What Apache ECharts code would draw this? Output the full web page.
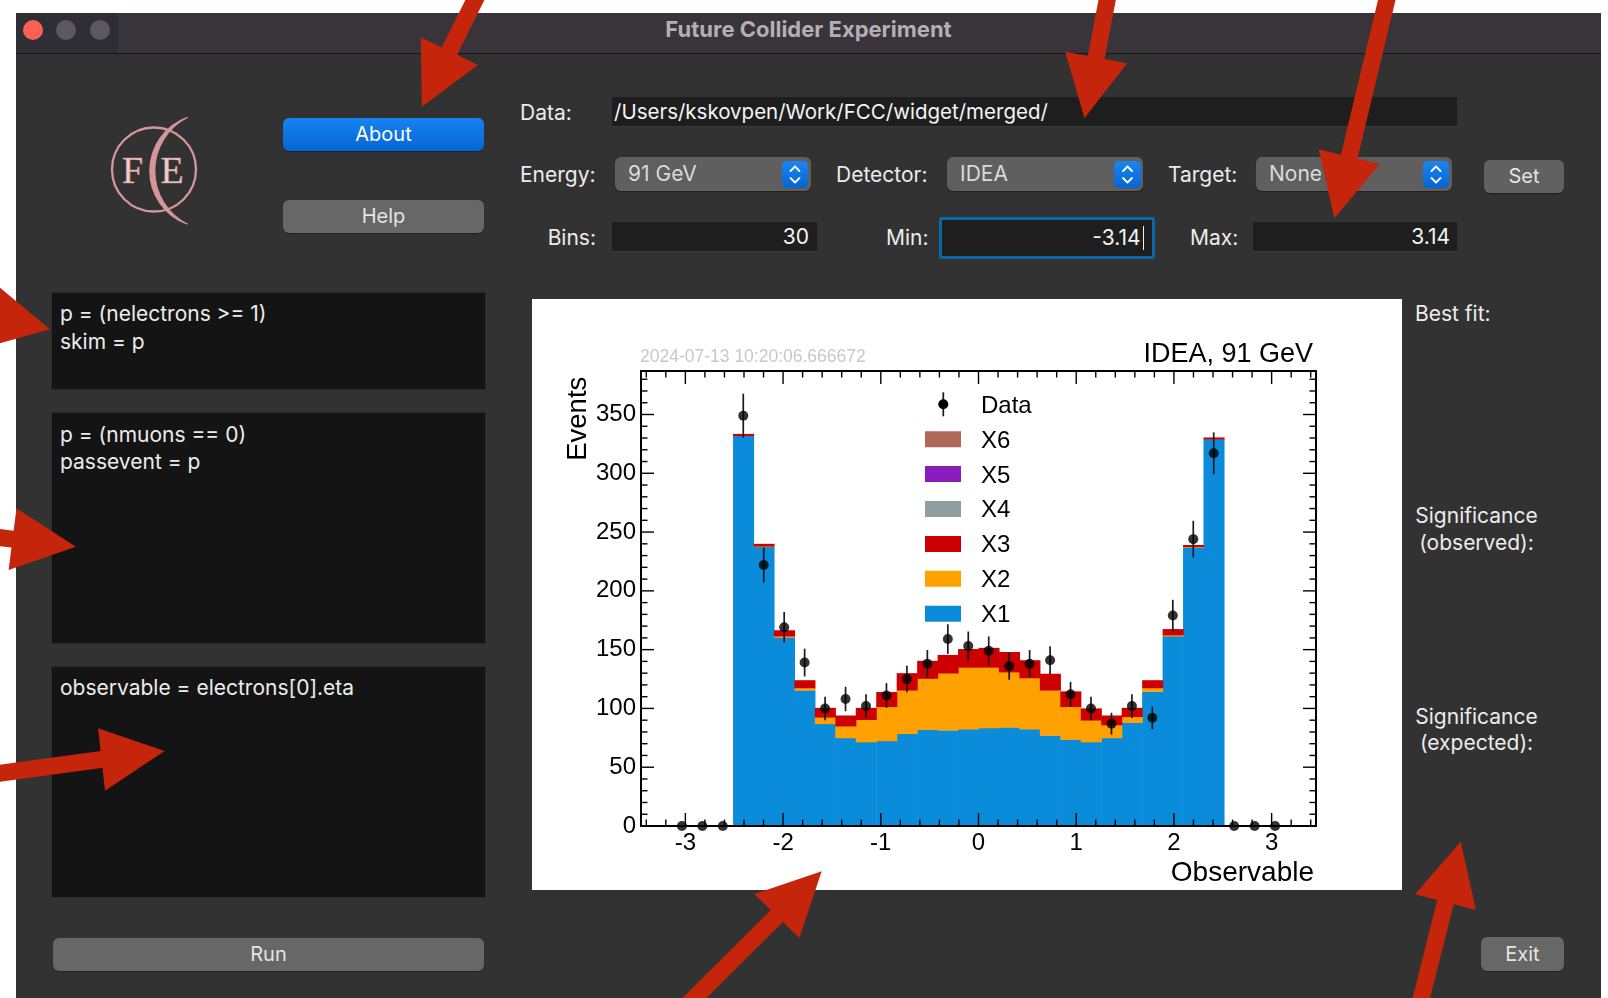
<!DOCTYPE html>
<html>
<head>
<meta charset="utf-8">
<script src="https://cdn.jsdelivr.net/npm/echarts@6/dist/echarts.min.js"></script>
<style>
  html, body { margin:0; padding:0; }
  body { width:1608px; height:998px; position:relative; overflow:hidden; background:#ffffff; font-family:Inter, "Noto Sans", sans-serif; }
  .abs { position:absolute; box-sizing:border-box; }
  .lbl { position:absolute; color:#ececec; font-size:21px; white-space:nowrap; }
  .btn { position:absolute; box-sizing:border-box; border-radius:6px; background:#676767; color:#e4e4e4; font-size:20px; text-align:center; box-shadow:0 1px 1px rgba(0,0,0,0.35); }
  .field { position:absolute; box-sizing:border-box; background:#1e1e1e; color:#f4f4f4; font-size:21px; border-bottom:1px solid #3a3a3a; white-space:nowrap; }
  .combo { position:absolute; box-sizing:border-box; background:#5f5f5f; border-radius:6px; color:#dadada; font-size:21px; box-shadow:0 1px 1px rgba(0,0,0,0.35); }
  .step { position:absolute; border-radius:5px; background:linear-gradient(#1a86f2,#0564d2); }
  .tarea { position:absolute; box-sizing:border-box; background:#141414; border:1px solid #2a2a2a; color:#ececec; font-size:21px; line-height:27.7px; padding-left:8px; white-space:pre; }
</style>
</head>
<body>
<!-- window -->
<div class="abs" style="left:16px;top:13px;width:1585px;height:985px;background:#323232;"></div>
<div class="abs" style="left:16px;top:13px;width:1585px;height:41px;background:#38343a;border-bottom:1px solid #151515;"></div>
<div class="abs" style="left:16px;top:13px;width:102px;height:40px;background:#2f2e34;"></div>
<div class="abs" style="left:16px;top:13px;width:1585px;height:33px;line-height:33px;text-align:center;color:#b3afb3;font-weight:700;font-size:22px;">Future Collider Experiment</div>
<div class="abs" style="left:23px;top:19.5px;width:20px;height:20px;border-radius:50%;background:#fe5f57;"></div>
<div class="abs" style="left:56px;top:19.5px;width:20px;height:20px;border-radius:50%;background:#5b595e;"></div>
<div class="abs" style="left:89.5px;top:19.5px;width:20px;height:20px;border-radius:50%;background:#5b595e;"></div>

<!-- logo -->
<svg class="abs" style="left:0;top:0;" width="260" height="260">
  <circle cx="154" cy="169.5" r="42" fill="none" stroke="#d4969a" stroke-width="2.3"/>
  <path d="M187.7,117.3 A56.7,56.7 0 0 0 187.7,224.3 A59.9,59.9 0 0 1 187.7,117.3 Z" fill="#d4969a" stroke="#d4969a" stroke-width="1.2"/>
  <text x="132.6" y="182.7" text-anchor="middle" font-family="Liberation Serif, DejaVu Serif, serif" font-size="38" fill="#ecd0d0" stroke="#c98a8e" stroke-width="0.6">F</text>
  <text x="172.2" y="182.7" text-anchor="middle" font-family="Liberation Serif, DejaVu Serif, serif" font-size="38" fill="#ecd0d0" stroke="#c98a8e" stroke-width="0.6">E</text>
</svg>

<div class="btn" style="left:283px;top:118px;width:201px;height:33px;line-height:33px;background:linear-gradient(#1783f0,#0566d4);color:#ffffff;">About</div>
<div class="btn" style="left:283px;top:200px;width:201px;height:33px;line-height:33px;">Help</div>

<!-- controls -->
<div class="lbl" style="left:520px;top:98px;height:30px;line-height:30px;">Data:</div>
<div class="field" style="left:612px;top:97px;width:845px;height:30px;line-height:29px;padding-left:2px;font-size:20.5px;">/Users/kskovpen/Work/FCC/widget/merged/</div>

<div class="lbl" style="left:520px;top:160px;height:30px;line-height:30px;">Energy:</div>
<div class="combo" style="left:615px;top:157px;width:196px;height:34px;line-height:34px;padding-left:13px;">91 GeV</div>
<div class="step" style="left:782px;top:161px;width:26px;height:26.5px;"><svg width="26" height="27"><path d="M8.5,10 L13,5.5 L17.5,10 M8.5,17 L13,21.5 L17.5,17" fill="none" stroke="#fff" stroke-width="1.8" stroke-linecap="round" stroke-linejoin="round"/></svg></div>

<div class="lbl" style="left:836px;top:160px;height:30px;line-height:30px;">Detector:</div>
<div class="combo" style="left:947px;top:157px;width:196px;height:34px;line-height:34px;padding-left:13px;">IDEA</div>
<div class="step" style="left:1114px;top:161px;width:27px;height:26.5px;"><svg width="27" height="27"><path d="M9,10 L13.5,5.5 L18,10 M9,17 L13.5,21.5 L18,17" fill="none" stroke="#fff" stroke-width="1.8" stroke-linecap="round" stroke-linejoin="round"/></svg></div>

<div class="lbl" style="left:1168px;top:160px;height:30px;line-height:30px;">Target:</div>
<div class="combo" style="left:1256px;top:157px;width:196px;height:34px;line-height:34px;padding-left:13px;">None</div>
<div class="step" style="left:1423px;top:161px;width:26px;height:26.5px;"><svg width="26" height="27"><path d="M8.5,10 L13,5.5 L17.5,10 M8.5,17 L13,21.5 L17.5,17" fill="none" stroke="#fff" stroke-width="1.8" stroke-linecap="round" stroke-linejoin="round"/></svg></div>
<div class="btn" style="left:1484px;top:160px;width:80px;height:33px;line-height:33px;background:#616161;">Set</div>

<div class="lbl" style="left:496px;top:223px;width:100px;height:30px;line-height:30px;text-align:right;">Bins:</div>
<div class="field" style="left:612px;top:222px;width:205px;height:30px;line-height:29px;text-align:right;padding-right:8px;">30</div>
<div class="lbl" style="left:886px;top:223px;height:30px;line-height:30px;">Min:</div>
<div class="abs" style="left:938.5px;top:216.5px;width:216px;height:42px;border:3px solid #0a68a4;border-radius:3px;background:#1e1e1e;"></div>
<div class="abs" style="left:941.5px;top:219.5px;width:199px;height:36px;line-height:36px;text-align:right;color:#f4f4f4;font-size:21px;">-3.14</div>
<div class="abs" style="left:1142.5px;top:226px;width:1px;height:24px;background:#f0f0f0;"></div>
<div class="lbl" style="left:1190px;top:223px;height:30px;line-height:30px;">Max:</div>
<div class="field" style="left:1253px;top:222px;width:204px;height:30px;line-height:29px;text-align:right;padding-right:7px;">3.14</div>

<!-- text areas -->
<div class="tarea" style="left:51px;top:292px;width:435px;height:98px;padding-top:7px;">p = (nelectrons &gt;= 1)
skim = p</div>
<div class="tarea" style="left:51px;top:412px;width:435px;height:232px;padding-top:7.5px;">p = (nmuons == 0)
passevent = p</div>
<div class="tarea" style="left:51px;top:666px;width:435px;height:232px;padding-top:7px;">observable = electrons[0].eta</div>
<div class="btn" style="left:53px;top:938px;width:431px;height:33px;line-height:33px;">Run</div>

<!-- right labels -->
<div class="lbl" style="left:1415px;top:300px;height:28px;line-height:28px;">Best fit:</div>
<div class="lbl" style="left:1376px;top:503px;width:201px;line-height:26.5px;text-align:center;">Significance<br>(observed):</div>
<div class="lbl" style="left:1376px;top:703.5px;width:201px;line-height:26.5px;text-align:center;">Significance<br>(expected):</div>
<div class="btn" style="left:1481px;top:937px;width:83px;height:34px;line-height:34px;">Exit</div>

<!-- plot panel -->
<div class="abs" style="left:532px;top:299px;width:870px;height:591px;background:#ffffff;"></div>
<div id="chart" class="abs" style="left:532px;top:299px;width:870px;height:591px;"></div>

<!-- red arrows -->
<svg id="arrows" class="abs" style="left:0;top:0;pointer-events:none;" width="1608" height="998"></svg>

<script>
// ---------------- data ----------------
const nBins = 30;
const binMin = -3.14;
const binMax = 3.14;
const seriesNames = ['X1', 'X2', 'X3', 'X4', 'X5', 'X6'];
const x1Values = [0, 0, 0, 332, 237.5, 160.5, 115.5, 87, 75, 71.5, 72.5, 78.5, 82, 81.5, 82.5, 83.5, 84, 82.5, 77, 73.5, 71.5, 75, 88, 114.5, 161.5, 237, 329, 0, 0, 0];
const x2Values = [0, 0, 0, 0, 0.5, 1, 2, 5.5, 10, 19, 29, 37, 43.5, 48.5, 52.5, 51.5, 47, 43.5, 38.5, 28, 18.5, 11, 5, 3, 1, 0.5, 0, 0, 0, 0];
const x3Values = [0, 0, 0, 1.5, 2, 5, 6.5, 8, 9, 10, 12.5, 14.5, 15, 15.5, 15.5, 16.5, 17, 15, 14, 13, 10, 8, 7.5, 6.5, 5, 1.5, 1.5, 0, 0, 0];
const x4Values = [0, 0, 0, 0, 0, 0, 0, 0, 0, 0, 0, 0, 0, 0, 0, 0, 0, 0, 0, 0, 0, 0, 0, 0, 0, 0, 0, 0, 0, 0];
const x5Values = [0, 0, 0, 0, 0, 0, 0, 0, 0, 0, 0, 0, 0, 0, 0, 0, 0, 0, 0, 0, 0, 0, 0, 0, 0, 0, 0, 0, 0, 0];
const x6Values = [0, 0, 0, 0, 0, 0, 0, 0, 0, 0, 0, 0, 0, 0, 0, 0, 0, 0, 0, 0, 0, 0, 0, 0, 0, 0, 0, 0, 0, 0];
const dataCounts = [0, 0, 0, 349, 222, 169, 139, 100, 108, 102, 111, 125, 138, 159, 153, 149, 136, 138, 141, 112, 100, 87, 102, 92, 179, 244, 317, 0, 0, 0];
const dataErrors = [0, 0, 0, 18.7, 14.9, 13, 11.8, 10, 10.4, 10.1, 10.5, 11.2, 11.7, 12.6, 12.4, 12.2, 11.7, 11.7, 11.9, 10.6, 10, 9.3, 10.1, 9.6, 13.4, 15.6, 17.8, 0, 0, 0];
const legendNames = ['Data', 'X6', 'X5', 'X4', 'X3', 'X2', 'X1'];
const xMajorTicks = [-3, -2, -1, 0, 1, 2, 3];
const yMajorTicks = [0, 50, 100, 150, 200, 250, 300, 350];
const xRange = [-3.454, 3.454];
const yRange = [0, 387];

// ---------------- styles ----------------
const colors = { X1: '#0b8cdb', X2: '#ffa100', X3: '#cc0000', X4: '#90a09e', X5: '#8b1dbf', X6: '#b0685a' };
const FONT = '"Liberation Sans", Arial, sans-serif';

const allValues = [x1Values, x2Values, x3Values, x4Values, x5Values, x6Values];
const binWidth = (binMax - binMin) / nBins;
const edge = i => binMin + i * binWidth;

// stacked components
const stackSeries = [];
let base = new Array(nBins).fill(0);
allValues.forEach((vals, k) => {
  const name = seriesNames[k];
  const lows = base.slice();
  const highs = lows.map((b, i) => b + vals[i]);
  base = highs;
  const color = colors[name];
  stackSeries.push({
    type: 'custom', name: name, coordinateSystem: 'cartesian2d', z: 2 + k * 0.01, silent: true, clip: true,
    encode: { x: [0, 1], y: [2, 3] },
    data: lows.map((b, i) => [edge(i), edge(i + 1), b, highs[i]]),
    renderItem: function (params, api) {
      const lo = api.value(2), hi = api.value(3);
      if (!(hi > lo)) return null;
      const p0 = api.coord([api.value(0), hi]);
      const p1 = api.coord([api.value(1), lo]);
      return { type: 'rect', shape: { x: p0[0], y: p0[1], width: p1[0] - p0[0] + 0.6, height: p1[1] - p0[1] + 0.4 }, style: { fill: color } };
    }
  });
});

const centers = dataCounts.map((v, i) => (edge(i) + edge(i + 1)) / 2);

// tick marks (ROOT style, inside, mirrored)
const xMinorTicks = [];
for (let t = -34; t <= 34; t += 2) { if (t % 10 !== 0) xMinorTicks.push(t / 10); }
const yMinorTicks = [];
for (let t = 10; t < 387; t += 10) { if (t % 50 !== 0) yMinorTicks.push(t); }
const MAJ = 13, MIN = 6.5;

const xTickSeries = {
  type: 'custom', coordinateSystem: 'cartesian2d', z: 20, silent: true, clip: false,
  data: xMajorTicks.map(v => [v, MAJ]).concat(xMinorTicks.map(v => [v, MIN])),
  renderItem: function (params, api) {
    const v = api.value(0), len = api.value(1);
    const b = api.coord([v, yRange[0]]), t = api.coord([v, yRange[1]]);
    return { type: 'group', children: [
      { type: 'line', shape: { x1: b[0], y1: b[1], x2: b[0], y2: b[1] - len }, style: { stroke: '#000', lineWidth: 1.4 } },
      { type: 'line', shape: { x1: t[0], y1: t[1], x2: t[0], y2: t[1] + len }, style: { stroke: '#000', lineWidth: 1.4 } }
    ] };
  }
};
const yTickSeries = {
  type: 'custom', coordinateSystem: 'cartesian2d', z: 20, silent: true, clip: false,
  data: yMajorTicks.map(v => [MAJ, v]).concat(yMinorTicks.map(v => [MIN, v])),
  renderItem: function (params, api) {
    const len = api.value(0), v = api.value(1);
    const l = api.coord([xRange[0], v]), r = api.coord([xRange[1], v]);
    return { type: 'group', children: [
      { type: 'line', shape: { x1: l[0], y1: l[1], x2: l[0] + len, y2: l[1] }, style: { stroke: '#000', lineWidth: 1.4 } },
      { type: 'line', shape: { x1: r[0], y1: r[1], x2: r[0] - len, y2: r[1] }, style: { stroke: '#000', lineWidth: 1.4 } }
    ] };
  }
};

const errorSeries = {
  type: 'custom', name: 'Data errors', coordinateSystem: 'cartesian2d', z: 5, silent: true, clip: true,
  data: centers.map((c, i) => [c, dataCounts[i], dataErrors[i]]),
  renderItem: function (params, api) {
    const c = api.value(0), v = api.value(1), e = api.value(2);
    if (!(e > 0)) return null;
    const a = api.coord([c, v - e]), b = api.coord([c, v + e]);
    return { type: 'line', shape: { x1: a[0], y1: a[1], x2: b[0], y2: b[1] }, style: { stroke: '#1c1c1c', lineWidth: 1.7 } };
  }
};
const dataSeries = {
  type: 'scatter', name: 'Data', z: 6, silent: true, clip: true,
  symbol: 'circle', symbolSize: 10, itemStyle: { color: '#000' },
  data: centers.map((c, i) => [c, dataCounts[i]])
};

// legend (ROOT style) and texts
const graphics = [];
const legTop = 105.3, legStep = 34.9;
legendNames.forEach((name, k) => {
  const y = legTop + k * legStep;
  if (name === 'Data') {
    graphics.push({ type: 'line', shape: { x1: 411.3, y1: y - 12, x2: 411.3, y2: y + 12 }, style: { stroke: '#1c1c1c', lineWidth: 1.7 } });
    graphics.push({ type: 'circle', shape: { cx: 411.3, cy: y, r: 5 }, style: { fill: '#000' } });
  } else {
    graphics.push({ type: 'rect', shape: { x: 393, y: y - 8, width: 36, height: 16 }, style: { fill: colors[name] } });
  }
  graphics.push({ type: 'text', x: 449, y: y + 1.8, style: { text: name, font: '24px ' + FONT, fill: '#000', align: 'left', verticalAlign: 'middle' } });
});
graphics.push({ type: 'text', x: 781, y: 56, style: { text: 'IDEA, 91 GeV', font: '27px ' + FONT, fill: '#000', align: 'right', verticalAlign: 'middle' } });
graphics.push({ type: 'text', x: 108, y: 58.5, style: { text: '2024-07-13 10:20:06.666672', font: '17.5px ' + FONT, fill: '#c8c8c8', align: 'left', verticalAlign: 'middle' } });
graphics.push({ type: 'text', x: 46.3, y: 77.7, rotation: Math.PI / 2, style: { text: 'Events', font: '27.5px ' + FONT, fill: '#000', align: 'right', verticalAlign: 'middle' } });
graphics.push({ type: 'text', x: 782, y: 574, style: { text: 'Observable', font: '28px ' + FONT, fill: '#000', align: 'right', verticalAlign: 'middle' } });

const axisLineStyle = { show: true, onZero: false, lineStyle: { color: '#000', width: 2 } };
const option = {
  animation: false,
  backgroundColor: '#ffffff',
  grid: { left: 109, right: 86, top: 72, bottom: 64, show: false },
  xAxis: [
    { type: 'value', position: 'bottom', min: xRange[0], max: xRange[1], minInterval: 1, maxInterval: 1, z: 15,
      axisLine: axisLineStyle, axisTick: { show: false }, splitLine: { show: false },
      axisLabel: { show: true, margin: 5, fontSize: 24, fontFamily: FONT, color: '#000', showMinLabel: false, showMaxLabel: false } },
    { type: 'value', position: 'top', min: xRange[0], max: xRange[1], minInterval: 1, maxInterval: 1, z: 15,
      axisLine: axisLineStyle, axisTick: { show: false }, splitLine: { show: false }, axisLabel: { show: false } }
  ],
  yAxis: [
    { type: 'value', position: 'left', min: yRange[0], max: yRange[1], minInterval: 50, maxInterval: 50, z: 15,
      axisLine: axisLineStyle, axisTick: { show: false }, splitLine: { show: false },
      axisLabel: { show: true, margin: 5, fontSize: 24, fontFamily: FONT, color: '#000', showMinLabel: true, showMaxLabel: false, padding: [5, 0, 0, 0] } },
    { type: 'value', position: 'right', min: yRange[0], max: yRange[1], minInterval: 50, maxInterval: 50, z: 15,
      axisLine: axisLineStyle, axisTick: { show: false }, splitLine: { show: false }, axisLabel: { show: false } }
  ],
  graphic: graphics,
  series: stackSeries.concat([errorSeries, dataSeries, xTickSeries, yTickSeries])
};
const chart = echarts.init(document.getElementById('chart'), null, { renderer: 'canvas' });
chart.setOption(option);

// ---------------- red annotation arrows ----------------
const arrowDefs = [
  { tail: [480.6, -11.5], mid: [449.4, 51.2], tip: [421.8, 106.7], b1: [420.8, 37.3], b2: [478, 65] },
  { tail: [1109.3, -11.2], mid: [1096.15, 57.5], tip: [1084.5, 118.3], b1: [1065.2, 51.7], b2: [1127.1, 63.3] },
  { tail: [1390.0, -13.5], mid: [1349.2, 156.65], tip: [1334.4, 218.3], b1: [1318.6, 149.3], b2: [1379.8, 164] },
  { tail: [-205, 274.5], mid: [-9.8, 316.5], tip: [49.9, 329.3], b1: [-3.1, 285.2], b2: [-16.5, 347.8] },
  { tail: [-177, 516.5], mid: [12.55, 539.15], tip: [75.8, 546.7], b1: [16.5, 508.3], b2: [8.6, 570] },
  { tail: [-27.3, 776.9], mid: [101.55, 759.5], tip: [164.6, 751], b1: [98.1, 728.3], b2: [105, 790.7] },
  { tail: [677.6, 1014.8], mid: [776.8, 916], tip: [821.7, 871.3], b1: [754.3, 894], b2: [799.3, 938] },
  { tail: [1416.2, 1018.5], mid: [1445.5, 902.15], tip: [1460.7, 841.7], b1: [1415, 894.3], b2: [1476, 910] }
];
const svg = document.getElementById('arrows');
const RED = '#c4250b';
let svgHtml = '';
arrowDefs.forEach(a => {
  const dx = a.tip[0] - a.mid[0], dy = a.tip[1] - a.mid[1];
  const L = Math.hypot(dx, dy);
  const ex = a.mid[0] + dx / L * 8, ey = a.mid[1] + dy / L * 8;
  svgHtml += `<line x1="${a.tail[0]}" y1="${a.tail[1]}" x2="${ex}" y2="${ey}" stroke="${RED}" stroke-width="17" stroke-linecap="butt"/>`;
  svgHtml += `<polygon points="${a.tip.join(',')} ${a.b1.join(',')} ${a.b2.join(',')}" fill="${RED}"/>`;
});
svg.innerHTML = svgHtml;
</script>
</body>
</html>
